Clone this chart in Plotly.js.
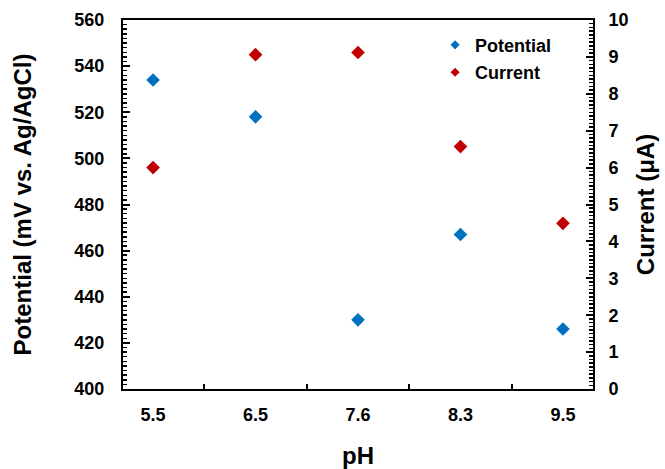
<!DOCTYPE html>
<html>
<head>
<meta charset="utf-8">
<script src="https://cdn.plot.ly/plotly-3.0.1.min.js"></script>
<style>html,body{margin:0;padding:0;background:#fff;}#chart{width:665px;height:469px;}</style>
</head>
<body>
<div id="chart"></div>
<script>
var phLabels = ["5.5", "6.5", "7.6", "8.3", "9.5"];
var potential = [534, 518, 430, 467, 426];
var current = [6.0, 9.06, 9.12, 6.57, 4.49];

var FONT = "Liberation Sans, Arial, sans-serif";
var BLUE = "#0070C0", RED = "#C00000";

var traces = [
  {
    x: phLabels, y: potential, name: "Potential", type: "scatter", mode: "markers",
    showlegend: false,
    marker: {symbol: "diamond", size: 10.5, color: BLUE},
    yaxis: "y"
  },
  {
    x: phLabels, y: current, name: "Current", type: "scatter", mode: "markers",
    showlegend: false,
    marker: {symbol: "diamond", size: 10.5, color: RED},
    yaxis: "y2"
  },
  {
    x: [null], y: [null], name: "Potential", type: "scatter", mode: "markers",
    legendgroup: "a", hoverinfo: "skip",
    marker: {symbol: "diamond", size: 7, color: BLUE}
  },
  {
    x: [null], y: [null], name: "Current", type: "scatter", mode: "markers",
    legendgroup: "b", hoverinfo: "skip",
    marker: {symbol: "diamond", size: 7, color: RED}
  }
];

var layout = {
  width: 665, height: 469,
  margin: {l: 123, r: 72, t: 20, b: 80},
  paper_bgcolor: "#fff", plot_bgcolor: "#fff",
  font: {family: FONT, color: "#000", size: 18},
  showlegend: true,
  legend: {
    x: 0.664, y: 0.982, xanchor: "left", yanchor: "top",
    font: {family: FONT, size: 18, color: "#000", weight: "bold"},
    bgcolor: "rgba(0,0,0,0)", traceorder: "grouped", tracegroupgap: 1,
    itemwidth: 30
  },
  xaxis: {
    type: "category",
    tickson: "boundaries",
    ticks: "inside", ticklen: 5, tickwidth: 2, tickcolor: "#000",
    showline: true, linecolor: "#000", linewidth: 2, mirror: true,
    showgrid: false, zeroline: false,
    ticklabelstandoff: 8,
    tickfont: {family: FONT, size: 18, color: "#000", weight: "bold"},
    title: {text: "pH", font: {family: FONT, size: 24, color: "#000", weight: "bold"}, standoff: 26}
  },
  yaxis: {
    range: [400, 560], dtick: 20, tick0: 400,
    ticks: "inside", ticklen: 7, tickwidth: 2, tickcolor: "#000",
    minor: {dtick: 2, ticks: "inside", ticklen: 4, tickwidth: 1.5, tickcolor: "#000"},
    showline: true, linecolor: "#000", linewidth: 2,
    showgrid: false, zeroline: false,
    ticklabelstandoff: 13,
    tickfont: {family: FONT, size: 18, color: "#000", weight: "bold"},
    title: {text: "Potential (mV vs. Ag/AgCl)", font: {family: FONT, size: 24, color: "#000", weight: "bold"}, standoff: 36}
  },
  yaxis2: {
    overlaying: "y", side: "right",
    range: [0, 10], dtick: 1, tick0: 0,
    ticks: "inside", ticklen: 7, tickwidth: 2, tickcolor: "#000",
    minor: {dtick: 0.1, ticks: "inside", ticklen: 4, tickwidth: 1.5, tickcolor: "#000"},
    showline: true, linecolor: "#000", linewidth: 2,
    showgrid: false, zeroline: false,
    tickprefix: "\u00a0\u00a0",
    tickfont: {family: FONT, size: 18, color: "#000", weight: "bold"},
    title: {text: "Current (μA)", font: {family: FONT, size: 24, color: "#000", weight: "bold"}, standoff: 10}
  }
};

Plotly.newPlot("chart", traces, layout, {displayModeBar: false, staticPlot: true});
</script>
</body>
</html>
